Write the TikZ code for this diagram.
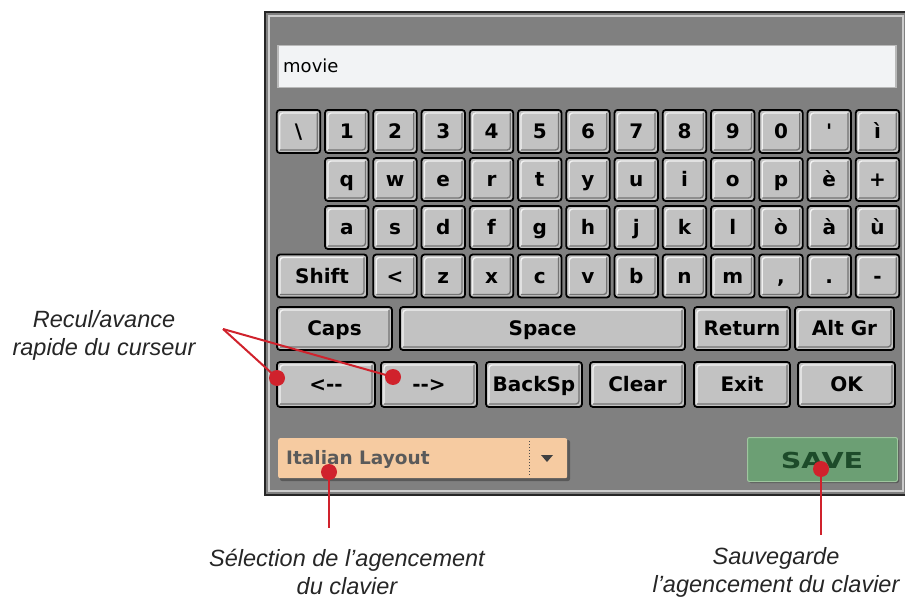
\documentclass[tikz,border=0pt]{standalone}
\usepackage{fontspec}
\setmainfont{Liberation Sans}
\newfontfamily\keyfont{DejaVu Sans}[Ligatures=TeXOff]
\usetikzlibrary{shapes.geometric}

\definecolor{panelgray}{HTML}{808080}
\definecolor{keygray}{HTML}{C2C2C2}
\definecolor{fieldwhite}{HTML}{F2F3F5}
\definecolor{layoutpeach}{HTML}{F6CBA1}
\definecolor{layouttext}{HTML}{5A5A5A}
\definecolor{savegreen}{HTML}{6C9F74}
\definecolor{savetext}{HTML}{1D4B2A}
\definecolor{calloutred}{HTML}{D0222C}

\begin{document}
\begin{tikzpicture}[x=1pt,y=-1pt,
    key/.style={draw=black,line width=1.8pt,fill=keygray,rounded corners=3pt,
      minimum width=43.5pt,minimum height=43pt,inner sep=0pt,
      text height=14.6pt,text depth=0pt,
      font=\keyfont\bfseries\fontsize{20}{20}\selectfont,
      path picture={
        \draw[white!90!gray,line width=1.4pt] ([shift={(3pt,3pt)}]path picture bounding box.south west)
          |- ([shift={(-3pt,-3pt)}]path picture bounding box.north east);
        \draw[black!55,line width=1.4pt] ([shift={(3pt,3pt)}]path picture bounding box.south west)
          -| ([shift={(-3pt,-3pt)}]path picture bounding box.north east);}},
    dot/.style={circle,fill=calloutred,minimum size=16pt,inner sep=0pt},
    callout/.style={draw=calloutred,line width=2pt},
    note/.style={align=center,text=black!85,font=\itshape\fontsize{23.5}{28}\selectfont}]
        \useasboundingbox (0,0) rectangle (905,601);

        % panel
        \fill[panelgray] (265,12) rectangle (908,495);
        \draw[black!85,line width=2pt] (908,12) -- (265,12) -- (265,495) -- (908,495);
        \draw[gray!40,line width=1.2pt] (903,16) -- (269,16) -- (269,491) -- (903,491) -- cycle;

        % text entry
        \node[draw=gray!55,line width=1.5pt,fill=fieldwhite,anchor=north west,
          minimum width=618pt,minimum height=42pt,inner sep=0pt] (field) at (277,45) {};
        \node[anchor=west,inner sep=0pt,font=\keyfont\fontsize{18}{18}\selectfont] (entry) at (283,66) {movie};

        % letter keys
        \foreach \k [count=\i from 0] in {\textbackslash,1,2,3,4,5,6,7,8,9,0,\textquotesingle,ì}
          \node[key] (top-\i) at (298.5+48.25*\i,131.5) {\k};
        \foreach \k [count=\i from 1] in {q,w,e,r,t,y,u,i,o,p,è,+}
          \node[key] (upper-\i) at (298.5+48.25*\i,179.5) {\k};
        \foreach \k [count=\i from 1] in {a,s,d,f,g,h,j,k,l,ò,à,ù}
          \node[key] (home-\i) at (298.5+48.25*\i,227.5) {\k};
        \foreach \k [count=\i from 2] in {<,z,x,c,v,b,n,m,{,},.,-}
          \node[key] (lower-\i) at (298.5+48.25*\i,276) {\k};
        \node[key,minimum width=90pt] (shift) at (322,276) {Shift};

        % function keys
        \node[key,minimum width=115pt] (caps) at (334.5,328.5) {Caps};
        \node[key,minimum width=285pt] (space) at (542.5,328.5) {Space};
        \node[key,minimum width=96pt] (return) at (742,328.5) {Return};
        \node[key,minimum width=99pt] (altgr) at (844.5,328.5) {Alt Gr};

        \node[key,minimum width=98pt,minimum height=45pt] (back) at (326,384.5) {<--};
        \node[key,minimum width=96pt,minimum height=45pt] (fwd) at (429,384.5) {-->};
        \node[key,minimum width=96pt,minimum height=45pt] (backsp) at (534,384.5) {BackSp};
        \node[key,minimum width=95pt,minimum height=45pt] (clear) at (637.5,384.5) {Clear};
        \node[key,minimum width=96pt,minimum height=45pt] (exit) at (742,384.5) {Exit};
        \node[key,minimum width=97pt,minimum height=45pt] (ok) at (846.5,384.5) {OK};

        % layout selector
        \fill[black!65,rounded corners=2pt] (280,440) rectangle (570,481);
        \node[fill=layoutpeach,rounded corners=2pt,anchor=north west,inner sep=0pt,
          minimum width=289pt,minimum height=40pt] (layout) at (278,438) {};
        \node[anchor=west,inner sep=0pt,text=layouttext,
          font=\keyfont\bfseries\fontsize{18.5}{18.5}\selectfont] (layoutname) at (286,459) {Italian Layout};
        \draw[dotted,black!70,line width=1pt] (529,441) -- (529,476);
        \fill[black!75] (541,455) -- (553,455) -- (547,462) -- cycle;

        % save button
        \fill[black!65,rounded corners=2pt] (749,439) rectangle (899,483);
        \node[fill=savegreen,draw=green!25!gray!60!white,line width=1pt,rounded corners=2pt,
          anchor=north west,inner sep=0pt,minimum width=150pt,minimum height=44pt] (save) at (747,437) {};
        \node[inner sep=0pt,text=savetext,font=\keyfont\bfseries\fontsize{22}{22}\selectfont]
          (savelabel) at (822,460) {\scalebox{1.3}[1]{SAVE}};

        % callouts
        \coordinate (apex) at (223,329);
        \coordinate (pickend) at (329,528);
        \coordinate (storeend) at (821,535);
        \node[dot] (backdot) at (277,378) {};
        \node[dot] (fwddot) at (393,377) {};
        \node[dot] (pickdot) at (329,472) {};
        \node[dot] (storedot) at (821,469) {};
        \draw[callout] (apex) -- (backdot.center);
        \draw[callout] (apex) -- (fwddot.center);
        \draw[callout] (pickdot.center) -- (pickend);
        \draw[callout] (storedot.center) -- (storeend);

        \node[note] (cursornote) at (104,335) {Recul/avance\\rapide du curseur};
        \node[note] (picknote) at (347,572) {Sélection de l’agencement\\du clavier};
        \node[note] (storenote) at (776,572) {Sauvegarde\\l’agencement du clavier};
\end{tikzpicture}
\end{document}
